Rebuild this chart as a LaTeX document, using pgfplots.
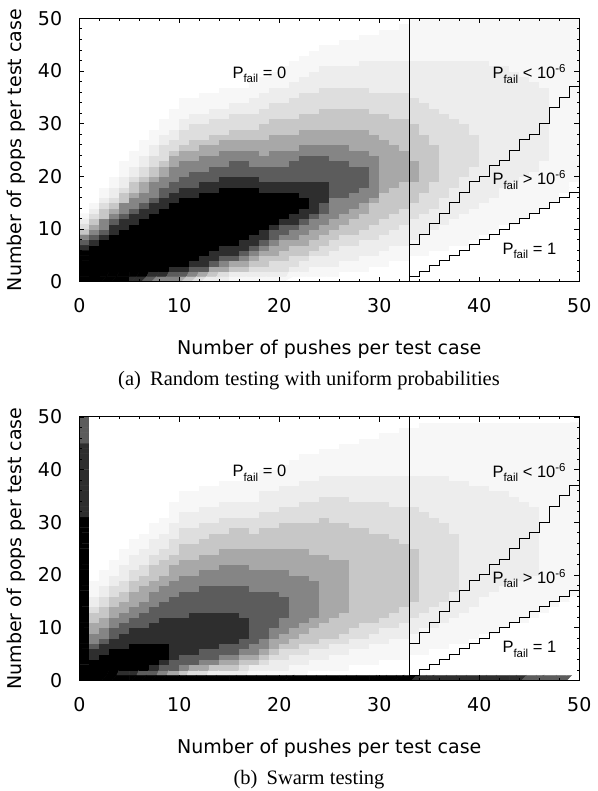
\documentclass[border=0pt]{standalone}
\usepackage{fontspec}
\usepackage{pgfplots}
\usepackage{pgfplotstable}
\pgfplotsset{compat=1.18}
\newfontfamily\djv{DejaVu Sans}
\newfontfamily\lsans{Liberation Sans}
\newfontfamily\lserif{Liberation Serif}
\newcommand{\lblfont}{\djv\fontsize{19}{23}\selectfont}
\newcommand{\pfont}{\lsans\fontsize{16.5}{20}\selectfont}
\newcommand{\capfont}{\lserif\fontsize{20.5}{24}\selectfont}
\newcommand{\psub}[1]{\raisebox{-4.5pt}{\fontsize{11.5}{13}\selectfont #1}}
\newcommand{\pexp}[1]{\raisebox{6pt}{\fontsize{11.5}{13}\selectfont #1}}
\newcommand{\Pf}{P\psub{fail}}

% gray levels 0 (white) .. 9 (black), one line per x column, y = 0..49
\pgfplotstableread[row sep=\\,header=false]{
9\\9\\9\\9\\9\\9\\8\\7\\6\\4\\ 3\\2\\1\\0\\0\\0\\0\\0\\0\\0\\ 0\\0\\0\\0\\0\\0\\0\\0\\0\\0\\ 0\\0\\0\\0\\0\\0\\0\\0\\0\\0\\ 0\\0\\0\\0\\0\\0\\0\\0\\0\\0\\
9\\9\\9\\9\\9\\9\\9\\8\\7\\6\\ 5\\4\\3\\2\\1\\0\\0\\0\\0\\0\\ 0\\0\\0\\0\\0\\0\\0\\0\\0\\0\\ 0\\0\\0\\0\\0\\0\\0\\0\\0\\0\\ 0\\0\\0\\0\\0\\0\\0\\0\\0\\0\\
9\\9\\9\\9\\9\\9\\9\\9\\8\\7\\ 6\\6\\4\\4\\3\\2\\1\\1\\0\\0\\ 0\\0\\0\\0\\0\\0\\0\\0\\0\\0\\ 0\\0\\0\\0\\0\\0\\0\\0\\0\\0\\ 0\\0\\0\\0\\0\\0\\0\\0\\0\\0\\
9\\9\\9\\9\\9\\9\\9\\9\\9\\8\\ 8\\7\\6\\5\\4\\3\\2\\2\\1\\1\\ 0\\0\\0\\0\\0\\0\\0\\0\\0\\0\\ 0\\0\\0\\0\\0\\0\\0\\0\\0\\0\\ 0\\0\\0\\0\\0\\0\\0\\0\\0\\0\\
9\\9\\9\\9\\9\\9\\9\\9\\9\\9\\ 8\\8\\7\\6\\6\\4\\4\\3\\2\\2\\ 1\\1\\1\\0\\0\\0\\0\\0\\0\\0\\ 0\\0\\0\\0\\0\\0\\0\\0\\0\\0\\ 0\\0\\0\\0\\0\\0\\0\\0\\0\\0\\
8\\9\\9\\9\\9\\9\\9\\9\\9\\9\\ 9\\8\\8\\7\\6\\6\\5\\4\\4\\3\\ 2\\2\\1\\1\\1\\0\\0\\0\\0\\0\\ 0\\0\\0\\0\\0\\0\\0\\0\\0\\0\\ 0\\0\\0\\0\\0\\0\\0\\0\\0\\0\\
8\\9\\9\\9\\9\\9\\9\\9\\9\\9\\ 9\\9\\8\\8\\7\\6\\6\\5\\5\\4\\ 3\\3\\2\\2\\1\\1\\1\\0\\0\\0\\ 0\\0\\0\\0\\0\\0\\0\\0\\0\\0\\ 0\\0\\0\\0\\0\\0\\0\\0\\0\\0\\
7\\8\\9\\9\\9\\9\\9\\9\\9\\9\\ 9\\9\\9\\8\\8\\7\\6\\6\\6\\5\\ 4\\4\\3\\3\\2\\2\\1\\1\\1\\0\\ 0\\0\\0\\0\\0\\0\\0\\0\\0\\0\\ 0\\0\\0\\0\\0\\0\\0\\0\\0\\0\\
6\\8\\9\\9\\9\\9\\9\\9\\9\\9\\ 9\\9\\9\\9\\8\\8\\7\\7\\6\\6\\ 5\\5\\4\\3\\3\\3\\2\\2\\1\\1\\ 1\\0\\0\\0\\0\\0\\0\\0\\0\\0\\ 0\\0\\0\\0\\0\\0\\0\\0\\0\\0\\
6\\7\\8\\9\\9\\9\\9\\9\\9\\9\\ 9\\9\\9\\9\\9\\8\\8\\7\\7\\6\\ 6\\6\\5\\5\\4\\3\\3\\2\\2\\1\\ 1\\1\\1\\0\\0\\0\\0\\0\\0\\0\\ 0\\0\\0\\0\\0\\0\\0\\0\\0\\0\\
5\\7\\8\\9\\9\\9\\9\\9\\9\\9\\ 9\\9\\9\\9\\9\\9\\8\\8\\7\\7\\ 6\\6\\6\\5\\5\\4\\3\\3\\3\\2\\ 2\\1\\1\\1\\1\\0\\0\\0\\0\\0\\ 0\\0\\0\\0\\0\\0\\0\\0\\0\\0\\
4\\6\\7\\8\\9\\9\\9\\9\\9\\9\\ 9\\9\\9\\9\\9\\9\\8\\8\\7\\7\\ 7\\6\\6\\5\\5\\4\\4\\3\\3\\3\\ 2\\2\\1\\1\\1\\0\\0\\0\\0\\0\\ 0\\0\\0\\0\\0\\0\\0\\0\\0\\0\\
3\\5\\7\\8\\8\\9\\9\\9\\9\\9\\ 9\\9\\9\\9\\9\\9\\9\\8\\8\\7\\ 7\\6\\6\\6\\5\\5\\4\\3\\3\\3\\ 2\\2\\1\\1\\1\\1\\0\\0\\0\\0\\ 0\\0\\0\\0\\0\\0\\0\\0\\0\\0\\
2\\4\\5\\7\\8\\8\\9\\9\\9\\9\\ 9\\9\\9\\9\\9\\9\\9\\8\\8\\7\\ 7\\7\\6\\6\\5\\5\\4\\4\\3\\3\\ 3\\2\\2\\1\\1\\1\\0\\0\\0\\0\\ 0\\0\\0\\0\\0\\0\\0\\0\\0\\0\\
2\\3\\5\\6\\7\\8\\8\\9\\9\\9\\ 9\\9\\9\\9\\9\\9\\9\\9\\8\\8\\ 7\\7\\6\\6\\6\\5\\5\\4\\3\\3\\ 3\\2\\2\\1\\1\\1\\1\\0\\0\\0\\ 0\\0\\0\\0\\0\\0\\0\\0\\0\\0\\
1\\2\\4\\5\\7\\8\\8\\9\\9\\9\\ 9\\9\\9\\9\\9\\9\\9\\9\\8\\8\\ 7\\7\\7\\6\\6\\5\\5\\4\\4\\3\\ 3\\3\\2\\2\\1\\1\\1\\0\\0\\0\\ 0\\0\\0\\0\\0\\0\\0\\0\\0\\0\\
1\\2\\4\\5\\6\\7\\8\\8\\9\\9\\ 9\\9\\9\\9\\9\\9\\9\\9\\8\\8\\ 7\\7\\7\\6\\6\\5\\5\\4\\4\\3\\ 3\\3\\2\\2\\1\\1\\1\\0\\0\\0\\ 0\\0\\0\\0\\0\\0\\0\\0\\0\\0\\
1\\2\\3\\4\\5\\6\\7\\8\\8\\9\\ 9\\9\\9\\9\\9\\9\\9\\9\\8\\8\\ 7\\7\\6\\6\\6\\5\\5\\4\\4\\3\\ 3\\3\\2\\2\\2\\1\\1\\1\\0\\0\\ 0\\0\\0\\0\\0\\0\\0\\0\\0\\0\\
1\\2\\3\\4\\4\\5\\6\\7\\8\\8\\ 9\\9\\9\\9\\9\\9\\9\\8\\8\\7\\ 7\\7\\6\\6\\5\\5\\5\\4\\4\\4\\ 3\\3\\3\\2\\2\\2\\1\\1\\1\\0\\ 0\\0\\0\\0\\0\\0\\0\\0\\0\\0\\
1\\2\\3\\3\\4\\5\\5\\6\\7\\7\\ 8\\9\\9\\9\\9\\9\\9\\8\\8\\7\\ 7\\7\\6\\6\\6\\5\\5\\5\\4\\4\\ 4\\3\\3\\3\\2\\2\\2\\1\\1\\1\\ 0\\0\\0\\0\\0\\0\\0\\0\\0\\0\\
1\\2\\3\\3\\4\\4\\5\\5\\6\\7\\ 7\\8\\9\\9\\9\\9\\9\\8\\8\\7\\ 7\\7\\6\\6\\6\\5\\5\\5\\4\\4\\ 4\\3\\3\\3\\2\\2\\2\\1\\1\\1\\ 1\\0\\0\\0\\0\\0\\0\\0\\0\\0\\
1\\1\\2\\3\\3\\4\\4\\5\\6\\6\\ 7\\8\\8\\9\\9\\9\\9\\8\\8\\7\\ 7\\7\\7\\6\\6\\5\\5\\5\\4\\4\\ 4\\3\\3\\3\\3\\2\\2\\2\\1\\1\\ 1\\1\\0\\0\\0\\0\\0\\0\\0\\0\\
0\\1\\2\\2\\3\\4\\4\\5\\5\\6\\ 6\\7\\8\\8\\9\\9\\8\\8\\8\\7\\ 7\\7\\7\\7\\6\\6\\5\\5\\5\\4\\ 4\\4\\3\\3\\3\\3\\2\\2\\2\\1\\ 1\\1\\1\\0\\0\\0\\0\\0\\0\\0\\
0\\1\\1\\2\\2\\3\\4\\4\\5\\5\\ 6\\6\\7\\8\\8\\8\\8\\8\\8\\7\\ 7\\7\\7\\7\\6\\6\\5\\5\\5\\4\\ 4\\4\\3\\3\\3\\3\\2\\2\\2\\2\\ 1\\1\\1\\1\\0\\0\\0\\0\\0\\0\\
0\\1\\1\\2\\2\\3\\3\\4\\4\\5\\ 5\\6\\6\\7\\7\\8\\8\\8\\8\\7\\ 7\\7\\7\\7\\6\\6\\5\\5\\5\\4\\ 4\\4\\4\\3\\3\\3\\3\\2\\2\\2\\ 2\\1\\1\\1\\1\\0\\0\\0\\0\\0\\
0\\1\\1\\2\\2\\2\\3\\3\\4\\4\\ 5\\5\\6\\6\\6\\6\\7\\7\\7\\7\\ 7\\7\\7\\6\\6\\6\\5\\5\\5\\4\\ 4\\4\\4\\3\\3\\3\\3\\2\\2\\2\\ 2\\1\\1\\1\\1\\0\\0\\0\\0\\0\\
0\\0\\1\\1\\2\\2\\2\\3\\3\\4\\ 4\\5\\5\\6\\6\\6\\7\\7\\7\\7\\ 7\\7\\7\\6\\6\\6\\5\\5\\5\\4\\ 4\\4\\4\\3\\3\\3\\3\\2\\2\\2\\ 2\\1\\1\\1\\1\\1\\0\\0\\0\\0\\
0\\0\\1\\1\\2\\2\\2\\3\\3\\4\\ 4\\4\\5\\5\\6\\6\\6\\7\\7\\7\\ 7\\7\\6\\6\\6\\5\\5\\5\\5\\4\\ 4\\4\\4\\3\\3\\3\\3\\2\\2\\2\\ 2\\1\\1\\1\\1\\1\\0\\0\\0\\0\\
0\\0\\1\\1\\1\\2\\2\\2\\3\\3\\ 4\\4\\4\\5\\5\\6\\6\\6\\7\\7\\ 7\\7\\6\\6\\6\\5\\5\\5\\5\\4\\ 4\\4\\4\\3\\3\\3\\3\\2\\2\\2\\ 2\\2\\1\\1\\1\\1\\1\\0\\0\\0\\
0\\0\\0\\1\\1\\2\\2\\2\\3\\3\\ 3\\4\\4\\4\\4\\5\\6\\6\\6\\6\\ 6\\6\\6\\6\\5\\5\\5\\5\\4\\4\\ 4\\4\\3\\3\\3\\3\\2\\2\\2\\2\\ 2\\2\\1\\1\\1\\1\\1\\0\\0\\0\\
0\\0\\0\\1\\1\\1\\2\\2\\2\\3\\ 3\\3\\4\\4\\4\\4\\4\\5\\5\\5\\ 5\\5\\5\\5\\5\\5\\5\\4\\4\\4\\ 4\\4\\3\\3\\3\\3\\2\\2\\2\\2\\ 2\\2\\1\\1\\1\\1\\1\\1\\0\\0\\
0\\0\\0\\0\\1\\1\\1\\2\\2\\2\\ 3\\3\\3\\4\\4\\4\\4\\4\\5\\5\\ 5\\5\\5\\5\\5\\5\\4\\4\\4\\4\\ 4\\3\\3\\3\\3\\3\\2\\2\\2\\2\\ 2\\2\\1\\1\\1\\1\\1\\1\\0\\0\\
0\\0\\0\\0\\1\\1\\1\\2\\2\\2\\ 2\\3\\3\\3\\4\\4\\4\\4\\4\\5\\ 5\\5\\5\\5\\5\\4\\4\\4\\4\\4\\ 4\\3\\3\\3\\3\\3\\2\\2\\2\\2\\ 2\\2\\1\\1\\1\\1\\1\\1\\1\\0\\
0\\0\\0\\0\\0\\1\\1\\1\\2\\2\\ 2\\2\\3\\3\\3\\4\\4\\4\\4\\5\\ 5\\5\\5\\4\\4\\4\\4\\4\\4\\4\\ 3\\3\\3\\3\\3\\2\\2\\2\\2\\2\\ 2\\2\\1\\1\\1\\1\\1\\1\\1\\1\\
0\\0\\0\\0\\0\\1\\1\\1\\1\\2\\ 2\\2\\2\\3\\3\\3\\3\\4\\4\\4\\ 4\\4\\4\\4\\4\\4\\4\\4\\3\\3\\ 3\\3\\3\\3\\2\\2\\2\\2\\2\\2\\ 2\\2\\1\\1\\1\\1\\1\\1\\1\\1\\
0\\0\\0\\0\\0\\0\\1\\1\\1\\1\\ 2\\2\\2\\2\\3\\3\\3\\3\\3\\4\\ 4\\4\\4\\4\\4\\4\\3\\3\\3\\3\\ 3\\3\\3\\2\\2\\2\\2\\2\\2\\2\\ 2\\2\\1\\1\\1\\1\\1\\1\\1\\1\\
0\\0\\0\\0\\0\\0\\1\\1\\1\\1\\ 1\\2\\2\\2\\2\\2\\3\\3\\3\\3\\ 3\\3\\3\\3\\3\\3\\3\\3\\3\\3\\ 3\\3\\2\\2\\2\\2\\2\\2\\2\\2\\ 2\\2\\1\\1\\1\\1\\1\\1\\1\\1\\
0\\0\\0\\0\\0\\0\\0\\1\\1\\1\\ 1\\1\\2\\2\\2\\2\\2\\2\\3\\3\\ 3\\3\\3\\3\\3\\3\\3\\3\\3\\3\\ 3\\2\\2\\2\\2\\2\\2\\2\\2\\2\\ 2\\2\\1\\1\\1\\1\\1\\1\\1\\1\\
0\\0\\0\\0\\0\\0\\0\\1\\1\\1\\ 1\\1\\1\\2\\2\\2\\2\\2\\2\\2\\ 3\\3\\3\\3\\3\\3\\3\\3\\3\\3\\ 2\\2\\2\\2\\2\\2\\2\\2\\2\\2\\ 2\\2\\1\\1\\1\\1\\1\\1\\1\\1\\
0\\0\\0\\0\\0\\0\\0\\0\\1\\1\\ 1\\1\\1\\1\\2\\2\\2\\2\\2\\2\\ 2\\2\\3\\3\\3\\3\\3\\3\\2\\2\\ 2\\2\\2\\2\\2\\2\\2\\2\\2\\2\\ 2\\2\\1\\1\\1\\1\\1\\1\\1\\1\\
0\\0\\0\\0\\0\\0\\0\\0\\0\\1\\ 1\\1\\1\\1\\1\\2\\2\\2\\2\\2\\ 2\\2\\2\\2\\2\\2\\2\\2\\2\\2\\ 2\\2\\2\\2\\2\\2\\2\\2\\2\\2\\ 2\\2\\1\\1\\1\\1\\1\\1\\1\\1\\
0\\0\\0\\0\\0\\0\\0\\0\\0\\0\\ 1\\1\\1\\1\\1\\1\\2\\2\\2\\2\\ 2\\2\\2\\2\\2\\2\\2\\2\\2\\2\\ 2\\2\\2\\2\\2\\2\\2\\2\\2\\2\\ 2\\1\\1\\1\\1\\1\\1\\1\\1\\1\\
0\\0\\0\\0\\0\\0\\0\\0\\0\\0\\ 0\\1\\1\\1\\1\\1\\1\\1\\2\\2\\ 2\\2\\2\\2\\2\\2\\2\\2\\2\\2\\ 2\\2\\2\\2\\2\\2\\2\\2\\2\\2\\ 2\\1\\1\\1\\1\\1\\1\\1\\1\\1\\
0\\0\\0\\0\\0\\0\\0\\0\\0\\0\\ 0\\1\\1\\1\\1\\1\\1\\1\\1\\2\\ 2\\2\\2\\2\\2\\2\\2\\2\\2\\2\\ 2\\2\\2\\2\\2\\2\\2\\2\\2\\2\\ 1\\1\\1\\1\\1\\1\\1\\1\\1\\1\\
0\\0\\0\\0\\0\\0\\0\\0\\0\\0\\ 0\\0\\1\\1\\1\\1\\1\\1\\1\\1\\ 2\\2\\2\\2\\2\\2\\2\\2\\2\\2\\ 2\\2\\2\\2\\2\\2\\2\\2\\2\\1\\ 1\\1\\1\\1\\1\\1\\1\\1\\1\\1\\
0\\0\\0\\0\\0\\0\\0\\0\\0\\0\\ 0\\0\\0\\1\\1\\1\\1\\1\\1\\1\\ 1\\2\\2\\2\\2\\2\\2\\2\\2\\2\\ 2\\2\\2\\2\\2\\2\\2\\2\\1\\1\\ 1\\1\\1\\1\\1\\1\\1\\1\\1\\1\\
0\\0\\0\\0\\0\\0\\0\\0\\0\\0\\ 0\\0\\0\\0\\1\\1\\1\\1\\1\\1\\ 1\\1\\1\\2\\2\\2\\2\\2\\2\\2\\ 2\\2\\2\\2\\2\\2\\2\\1\\1\\1\\ 1\\1\\1\\1\\1\\1\\1\\1\\1\\1\\
0\\0\\0\\0\\0\\0\\0\\0\\0\\0\\ 0\\0\\0\\0\\0\\1\\1\\1\\1\\1\\ 1\\1\\1\\1\\1\\1\\1\\1\\1\\1\\ 1\\1\\1\\1\\1\\1\\1\\1\\1\\1\\ 1\\1\\1\\1\\1\\1\\1\\1\\1\\1\\
0\\0\\0\\0\\0\\0\\0\\0\\0\\0\\ 0\\0\\0\\0\\0\\0\\0\\1\\1\\1\\ 1\\1\\1\\1\\1\\1\\1\\1\\1\\1\\ 1\\1\\1\\1\\1\\1\\1\\1\\1\\1\\ 1\\1\\1\\1\\1\\1\\1\\1\\1\\1\\
0\\0\\0\\0\\0\\0\\0\\0\\0\\0\\ 0\\0\\0\\0\\0\\0\\0\\0\\0\\1\\ 1\\1\\1\\1\\1\\1\\1\\1\\1\\1\\ 1\\1\\1\\1\\1\\1\\1\\1\\1\\1\\ 1\\1\\1\\1\\1\\1\\1\\1\\1\\1\\
}\gridA

\pgfplotstableread[row sep=\\,header=false]{
9\\9\\9\\9\\9\\9\\9\\9\\9\\9\\ 9\\9\\9\\9\\9\\9\\9\\9\\9\\9\\ 9\\9\\9\\9\\9\\9\\9\\9\\9\\9\\ 9\\8\\8\\8\\8\\8\\8\\8\\8\\8\\ 8\\8\\8\\8\\8\\7\\7\\7\\7\\7\\
9\\9\\9\\9\\8\\8\\7\\6\\6\\5\\ 5\\4\\4\\3\\2\\2\\1\\1\\1\\0\\ 0\\0\\0\\0\\0\\0\\0\\0\\0\\0\\ 0\\0\\0\\0\\0\\0\\0\\0\\0\\0\\ 0\\0\\0\\0\\0\\0\\0\\0\\0\\0\\
9\\9\\9\\9\\9\\8\\8\\7\\6\\6\\ 5\\5\\4\\4\\3\\3\\2\\2\\1\\1\\ 1\\0\\0\\0\\0\\0\\0\\0\\0\\0\\ 0\\0\\0\\0\\0\\0\\0\\0\\0\\0\\ 0\\0\\0\\0\\0\\0\\0\\0\\0\\0\\
9\\9\\9\\9\\9\\9\\8\\8\\7\\7\\ 6\\6\\5\\5\\4\\4\\3\\3\\2\\2\\ 1\\1\\1\\0\\0\\0\\0\\0\\0\\0\\ 0\\0\\0\\0\\0\\0\\0\\0\\0\\0\\ 0\\0\\0\\0\\0\\0\\0\\0\\0\\0\\
9\\8\\9\\9\\9\\9\\8\\8\\8\\7\\ 7\\6\\6\\5\\5\\4\\4\\3\\3\\2\\ 2\\2\\1\\1\\1\\0\\0\\0\\0\\0\\ 0\\0\\0\\0\\0\\0\\0\\0\\0\\0\\ 0\\0\\0\\0\\0\\0\\0\\0\\0\\0\\
9\\8\\9\\9\\9\\9\\9\\8\\8\\8\\ 7\\7\\6\\6\\5\\5\\5\\4\\4\\3\\ 3\\2\\2\\2\\1\\1\\1\\0\\0\\0\\ 0\\0\\0\\0\\0\\0\\0\\0\\0\\0\\ 0\\0\\0\\0\\0\\0\\0\\0\\0\\0\\
9\\7\\9\\9\\9\\9\\9\\8\\8\\8\\ 7\\7\\7\\6\\6\\5\\5\\5\\4\\4\\ 3\\3\\2\\2\\2\\1\\1\\1\\0\\0\\ 0\\0\\0\\0\\0\\0\\0\\0\\0\\0\\ 0\\0\\0\\0\\0\\0\\0\\0\\0\\0\\
9\\7\\8\\9\\9\\9\\9\\8\\8\\8\\ 8\\7\\7\\7\\6\\6\\6\\5\\5\\4\\ 4\\4\\3\\3\\2\\2\\2\\1\\1\\1\\ 0\\0\\0\\0\\0\\0\\0\\0\\0\\0\\ 0\\0\\0\\0\\0\\0\\0\\0\\0\\0\\
9\\6\\7\\8\\9\\9\\9\\8\\8\\8\\ 8\\8\\7\\7\\7\\6\\6\\6\\5\\5\\ 4\\4\\4\\3\\3\\2\\2\\2\\1\\1\\ 1\\0\\0\\0\\0\\0\\0\\0\\0\\0\\ 0\\0\\0\\0\\0\\0\\0\\0\\0\\0\\
9\\5\\7\\7\\8\\8\\8\\8\\8\\8\\ 8\\8\\7\\7\\7\\7\\6\\6\\6\\5\\ 5\\5\\4\\4\\3\\3\\3\\2\\2\\2\\ 1\\1\\1\\1\\0\\0\\0\\0\\0\\0\\ 0\\0\\0\\0\\0\\0\\0\\0\\0\\0\\
9\\4\\6\\7\\7\\8\\8\\8\\8\\8\\ 8\\8\\7\\7\\7\\7\\7\\6\\6\\6\\ 5\\5\\5\\4\\4\\4\\3\\3\\3\\2\\ 2\\2\\1\\1\\1\\1\\0\\0\\0\\0\\ 0\\0\\0\\0\\0\\0\\0\\0\\0\\0\\
9\\3\\5\\7\\7\\8\\8\\8\\8\\8\\ 8\\8\\8\\7\\7\\7\\7\\6\\6\\6\\ 5\\5\\5\\4\\4\\4\\3\\3\\3\\2\\ 2\\2\\1\\1\\1\\1\\0\\0\\0\\0\\ 0\\0\\0\\0\\0\\0\\0\\0\\0\\0\\
9\\3\\5\\6\\7\\7\\8\\8\\8\\8\\ 8\\8\\8\\7\\7\\7\\7\\7\\6\\6\\ 6\\5\\5\\5\\4\\4\\4\\3\\3\\3\\ 2\\2\\2\\1\\1\\1\\1\\0\\0\\0\\ 0\\0\\0\\0\\0\\0\\0\\0\\0\\0\\
9\\2\\4\\6\\7\\7\\8\\8\\8\\8\\ 8\\8\\8\\7\\7\\7\\7\\7\\6\\6\\ 6\\5\\5\\5\\4\\4\\4\\4\\3\\3\\ 2\\2\\2\\1\\1\\1\\1\\0\\0\\0\\ 0\\0\\0\\0\\0\\0\\0\\0\\0\\0\\
9\\2\\4\\5\\6\\7\\7\\8\\8\\8\\ 8\\8\\8\\7\\7\\7\\7\\7\\6\\6\\ 6\\6\\5\\5\\5\\4\\4\\4\\3\\3\\ 3\\2\\2\\2\\1\\1\\1\\1\\0\\0\\ 0\\0\\0\\0\\0\\0\\0\\0\\0\\0\\
9\\2\\4\\5\\6\\7\\7\\8\\8\\8\\ 8\\8\\8\\7\\7\\7\\7\\7\\6\\6\\ 6\\6\\5\\5\\5\\4\\4\\4\\4\\3\\ 3\\2\\2\\2\\1\\1\\1\\1\\0\\0\\ 0\\0\\0\\0\\0\\0\\0\\0\\0\\0\\
9\\2\\3\\4\\5\\6\\7\\7\\8\\8\\ 8\\8\\7\\7\\7\\7\\7\\7\\6\\6\\ 6\\6\\5\\5\\5\\4\\4\\4\\4\\3\\ 3\\2\\2\\2\\1\\1\\1\\1\\0\\0\\ 0\\0\\0\\0\\0\\0\\0\\0\\0\\0\\
9\\1\\2\\4\\5\\6\\6\\7\\7\\7\\ 7\\7\\7\\7\\7\\7\\7\\6\\6\\6\\ 6\\5\\5\\5\\5\\4\\4\\4\\3\\3\\ 3\\2\\2\\2\\1\\1\\1\\1\\1\\0\\ 0\\0\\0\\0\\0\\0\\0\\0\\0\\0\\
9\\1\\2\\3\\4\\5\\6\\6\\7\\7\\ 7\\7\\7\\7\\7\\7\\7\\6\\6\\6\\ 6\\5\\5\\5\\5\\4\\4\\4\\4\\3\\ 3\\3\\2\\2\\2\\2\\1\\1\\1\\1\\ 0\\0\\0\\0\\0\\0\\0\\0\\0\\0\\
9\\1\\2\\2\\3\\4\\5\\5\\6\\6\\ 7\\7\\7\\7\\7\\7\\7\\6\\6\\6\\ 6\\5\\5\\5\\5\\4\\4\\4\\4\\3\\ 3\\3\\2\\2\\2\\2\\1\\1\\1\\1\\ 0\\0\\0\\0\\0\\0\\0\\0\\0\\0\\
9\\1\\2\\2\\3\\3\\4\\5\\5\\6\\ 6\\6\\7\\7\\7\\7\\6\\6\\6\\6\\ 6\\5\\5\\5\\5\\4\\4\\4\\4\\4\\ 3\\3\\3\\2\\2\\2\\2\\1\\1\\1\\ 1\\0\\0\\0\\0\\0\\0\\0\\0\\0\\
9\\1\\1\\2\\2\\3\\4\\4\\5\\5\\ 6\\6\\6\\6\\6\\6\\6\\6\\6\\6\\ 5\\5\\5\\5\\5\\4\\4\\4\\4\\4\\ 3\\3\\3\\2\\2\\2\\2\\1\\1\\1\\ 1\\1\\0\\0\\0\\0\\0\\0\\0\\0\\
9\\1\\1\\2\\2\\3\\3\\4\\4\\5\\ 5\\6\\6\\6\\6\\6\\6\\6\\6\\6\\ 5\\5\\5\\5\\5\\4\\4\\4\\4\\4\\ 3\\3\\3\\3\\2\\2\\2\\2\\1\\1\\ 1\\1\\1\\0\\0\\0\\0\\0\\0\\0\\
9\\0\\1\\1\\2\\2\\3\\4\\4\\4\\ 5\\5\\6\\6\\6\\6\\6\\6\\6\\5\\ 5\\5\\5\\5\\4\\4\\4\\4\\4\\4\\ 3\\3\\3\\3\\2\\2\\2\\2\\1\\1\\ 1\\1\\1\\0\\0\\0\\0\\0\\0\\0\\
9\\0\\1\\1\\2\\2\\3\\3\\4\\4\\ 4\\5\\5\\5\\5\\5\\5\\5\\5\\5\\ 5\\5\\5\\5\\4\\4\\4\\4\\4\\4\\ 4\\3\\3\\3\\3\\2\\2\\2\\2\\1\\ 1\\1\\1\\1\\0\\0\\0\\0\\0\\0\\
9\\0\\1\\1\\1\\2\\2\\3\\4\\4\\ 4\\4\\5\\5\\5\\5\\5\\5\\5\\5\\ 5\\5\\5\\4\\4\\4\\4\\4\\4\\4\\ 3\\3\\3\\3\\3\\2\\2\\2\\2\\1\\ 1\\1\\1\\1\\0\\0\\0\\0\\0\\0\\
9\\0\\1\\1\\1\\2\\2\\3\\3\\4\\ 4\\4\\4\\5\\5\\5\\5\\5\\5\\5\\ 5\\5\\5\\4\\4\\4\\4\\4\\4\\4\\ 3\\3\\3\\3\\3\\2\\2\\2\\2\\1\\ 1\\1\\1\\1\\1\\0\\0\\0\\0\\0\\
9\\0\\0\\1\\1\\1\\2\\2\\3\\3\\ 4\\4\\4\\4\\4\\4\\4\\4\\4\\4\\ 4\\4\\4\\4\\4\\4\\4\\4\\4\\3\\ 3\\3\\3\\3\\2\\2\\2\\2\\2\\1\\ 1\\1\\1\\1\\1\\0\\0\\0\\0\\0\\
9\\0\\0\\1\\1\\1\\2\\2\\3\\3\\ 3\\4\\4\\4\\4\\4\\4\\4\\4\\4\\ 4\\4\\4\\4\\4\\4\\4\\4\\4\\3\\ 3\\3\\3\\3\\2\\2\\2\\2\\2\\1\\ 1\\1\\1\\1\\1\\1\\0\\0\\0\\0\\
9\\0\\0\\1\\1\\1\\1\\2\\2\\3\\ 3\\4\\4\\4\\4\\4\\4\\4\\4\\4\\ 4\\4\\4\\4\\4\\4\\4\\4\\3\\3\\ 3\\3\\3\\3\\2\\2\\2\\2\\2\\1\\ 1\\1\\1\\1\\1\\1\\0\\0\\0\\0\\
9\\0\\0\\0\\1\\1\\1\\2\\2\\2\\ 3\\3\\4\\4\\4\\4\\4\\4\\4\\4\\ 4\\4\\4\\4\\4\\4\\4\\4\\3\\3\\ 3\\3\\3\\3\\2\\2\\2\\2\\2\\1\\ 1\\1\\1\\1\\1\\1\\1\\0\\0\\0\\
9\\0\\0\\0\\1\\1\\1\\1\\2\\2\\ 3\\3\\3\\4\\4\\4\\4\\4\\4\\4\\ 4\\4\\4\\4\\4\\4\\4\\3\\3\\3\\ 3\\3\\3\\2\\2\\2\\2\\2\\2\\1\\ 1\\1\\1\\1\\1\\1\\1\\0\\0\\0\\
9\\0\\0\\0\\1\\1\\1\\1\\2\\2\\ 2\\3\\3\\3\\4\\4\\4\\4\\4\\4\\ 4\\4\\4\\4\\4\\4\\3\\3\\3\\3\\ 3\\3\\3\\2\\2\\2\\2\\2\\2\\1\\ 1\\1\\1\\1\\1\\1\\1\\1\\0\\0\\
9\\0\\0\\0\\0\\1\\1\\1\\1\\2\\ 2\\2\\3\\3\\3\\4\\4\\4\\4\\4\\ 4\\4\\4\\4\\4\\3\\3\\3\\3\\3\\ 3\\3\\3\\2\\2\\2\\2\\2\\2\\1\\ 1\\1\\1\\1\\1\\1\\1\\1\\0\\0\\
8\\0\\0\\0\\0\\1\\1\\1\\1\\1\\ 2\\2\\2\\3\\3\\3\\3\\3\\3\\3\\ 3\\3\\3\\3\\3\\3\\3\\3\\3\\3\\ 3\\3\\2\\2\\2\\2\\2\\2\\2\\1\\ 1\\1\\1\\1\\1\\1\\1\\1\\1\\0\\
8\\0\\0\\0\\0\\0\\1\\1\\1\\1\\ 2\\2\\2\\2\\3\\3\\3\\3\\3\\3\\ 3\\3\\3\\3\\3\\3\\3\\3\\3\\3\\ 3\\2\\2\\2\\2\\2\\2\\2\\2\\1\\ 1\\1\\1\\1\\1\\1\\1\\1\\1\\0\\
8\\0\\0\\0\\0\\0\\1\\1\\1\\1\\ 1\\2\\2\\2\\2\\3\\3\\3\\3\\3\\ 3\\3\\3\\3\\3\\3\\3\\3\\3\\3\\ 2\\2\\2\\2\\2\\2\\2\\2\\2\\1\\ 1\\1\\1\\1\\1\\1\\1\\1\\1\\0\\
8\\0\\0\\0\\0\\0\\0\\1\\1\\1\\ 1\\1\\2\\2\\2\\2\\2\\3\\3\\3\\ 3\\3\\3\\3\\3\\3\\3\\3\\2\\2\\ 2\\2\\2\\2\\2\\2\\2\\2\\1\\1\\ 1\\1\\1\\1\\1\\1\\1\\1\\1\\0\\
8\\0\\0\\0\\0\\0\\0\\1\\1\\1\\ 1\\1\\1\\2\\2\\2\\2\\2\\2\\2\\ 2\\2\\2\\2\\2\\2\\2\\2\\2\\2\\ 2\\2\\2\\2\\2\\2\\2\\2\\1\\1\\ 1\\1\\1\\1\\1\\1\\1\\1\\1\\0\\
8\\0\\0\\0\\0\\0\\0\\0\\1\\1\\ 1\\1\\1\\1\\2\\2\\2\\2\\2\\2\\ 2\\2\\2\\2\\2\\2\\2\\2\\2\\2\\ 2\\2\\2\\2\\2\\2\\2\\1\\1\\1\\ 1\\1\\1\\1\\1\\1\\1\\1\\1\\0\\
8\\0\\0\\0\\0\\0\\0\\0\\0\\1\\ 1\\1\\1\\1\\1\\1\\2\\2\\2\\2\\ 2\\2\\2\\2\\2\\2\\2\\2\\2\\2\\ 2\\2\\2\\2\\2\\2\\2\\1\\1\\1\\ 1\\1\\1\\1\\1\\1\\1\\1\\1\\0\\
8\\0\\0\\0\\0\\0\\0\\0\\0\\1\\ 1\\1\\1\\1\\1\\1\\1\\2\\2\\2\\ 2\\2\\2\\2\\2\\2\\2\\2\\2\\2\\ 2\\2\\2\\2\\2\\2\\1\\1\\1\\1\\ 1\\1\\1\\1\\1\\1\\1\\1\\1\\0\\
8\\0\\0\\0\\0\\0\\0\\0\\0\\0\\ 1\\1\\1\\1\\1\\1\\1\\1\\2\\2\\ 2\\2\\2\\2\\2\\2\\2\\2\\2\\2\\ 2\\2\\2\\2\\2\\2\\1\\1\\1\\1\\ 1\\1\\1\\1\\1\\1\\1\\1\\1\\0\\
8\\0\\0\\0\\0\\0\\0\\0\\0\\0\\ 0\\1\\1\\1\\1\\1\\1\\1\\1\\2\\ 2\\2\\2\\2\\2\\2\\2\\2\\2\\2\\ 2\\2\\2\\2\\2\\1\\1\\1\\1\\1\\ 1\\1\\1\\1\\1\\1\\1\\1\\1\\0\\
8\\0\\0\\0\\0\\0\\0\\0\\0\\0\\ 0\\1\\1\\1\\1\\1\\1\\1\\1\\2\\ 2\\2\\2\\2\\2\\2\\2\\2\\2\\2\\ 2\\2\\2\\2\\1\\1\\1\\1\\1\\1\\ 1\\1\\1\\1\\1\\1\\1\\1\\1\\0\\
7\\0\\0\\0\\0\\0\\0\\0\\0\\0\\ 0\\0\\1\\1\\1\\1\\1\\1\\1\\1\\ 2\\2\\2\\2\\2\\2\\2\\2\\2\\2\\ 2\\2\\2\\1\\1\\1\\1\\1\\1\\1\\ 1\\1\\1\\1\\1\\1\\1\\1\\1\\0\\
7\\0\\0\\0\\0\\0\\0\\0\\0\\0\\ 0\\0\\0\\1\\1\\1\\1\\1\\1\\1\\ 1\\1\\1\\1\\1\\1\\1\\1\\1\\1\\ 1\\1\\1\\1\\1\\1\\1\\1\\1\\1\\ 1\\1\\1\\1\\1\\1\\1\\1\\1\\0\\
7\\0\\0\\0\\0\\0\\0\\0\\0\\0\\ 0\\0\\0\\0\\1\\1\\1\\1\\1\\1\\ 1\\1\\1\\1\\1\\1\\1\\1\\1\\1\\ 1\\1\\1\\1\\1\\1\\1\\1\\1\\1\\ 1\\1\\1\\1\\1\\1\\1\\1\\1\\0\\
7\\0\\0\\0\\0\\0\\0\\0\\0\\0\\ 0\\0\\0\\0\\0\\1\\1\\1\\1\\1\\ 1\\1\\1\\1\\1\\1\\1\\1\\1\\1\\ 1\\1\\1\\1\\1\\1\\1\\1\\1\\1\\ 1\\1\\1\\1\\1\\1\\1\\1\\1\\0\\
7\\0\\0\\0\\0\\0\\0\\0\\0\\0\\ 0\\0\\0\\0\\0\\0\\1\\1\\1\\1\\ 1\\1\\1\\1\\1\\1\\1\\1\\1\\1\\ 1\\1\\1\\1\\1\\1\\1\\1\\1\\1\\ 1\\1\\1\\1\\1\\1\\1\\1\\1\\0\\
}\gridB

\pgfplotsset{
  colormap={fail}{gray(0cm)=(1); gray(1cm)=(0.97); gray(2cm)=(0.93);
    gray(3cm)=(0.87); gray(4cm)=(0.78); gray(5cm)=(0.66); gray(6cm)=(0.52);
    gray(7cm)=(0.36); gray(8cm)=(0.18); gray(9cm)=(0)},
  panel/.style={
    width=500pt, height=263.5pt, scale only axis,
    xmin=0, xmax=50, ymin=0, ymax=50, enlargelimits=false,
    xtick={0,10,...,50}, ytick={0,10,...,50},
    minor x tick num=4, minor y tick num=4,
    tick align=inside, xtick pos=both, ytick pos=both,
    major tick length=5pt, minor tick length=2.5pt,
    every tick/.style={black, line width=0.5pt},
    axis line style={black, line width=0.8pt},
    axis on top,
    colormap name=fail, point meta min=0, point meta max=9,
    /pgf/number format/assume math mode=true,
    tick label style={font=\lblfont},
    xticklabel style={anchor=base, inner sep=0pt, yshift=-31.3pt},
    yticklabel style={anchor=east, inner sep=0pt, xshift=-17pt},
    xlabel={Number of pushes per test case},
    ylabel={Number of pops per test case},
    label style={font=\lblfont},
    xlabel style={at={(axis description cs:0.5,-0.276)}, anchor=base},
    ylabel style={at={(axis description cs:-0.1156,0.5)}, anchor=base},
  },
  heat/.style={matrix plot*, mesh/rows=50, mesh/cols=50,
    mesh/ordering=y varies, point meta=explicit},
  step/.style={const plot, black, line width=0.8pt, mark=none},
}

\newcommand{\panelextras}{%
  \addplot[step] coordinates {(33,7) (34,9) (35,11) (36,13) (37,15) (38,17)
    (39,19) (40,20) (41,22) (42,23) (43,25) (44,27) (45,28) (46,30) (47,33)
    (48,35) (49,37) (50,37)};
  \addplot[step] coordinates {(33,1) (34,2) (35,3) (36,4) (37,5) (38,6)
    (39,7) (40,8) (41,9) (42,10) (43,11) (44,12) (45,13) (46,14) (47,15)
    (48,16) (49,17) (50,17)};
  \addplot[black, line width=0.8pt, mark=none] coordinates {(33,0) (33,50)};
  \node[anchor=base west, font=\pfont, inner sep=0pt] at (axis cs:15.3,38.6) {\Pf{} = 0};
  \node[anchor=base west, font=\pfont, inner sep=0pt] at (axis cs:41.3,38.5) {\Pf{} < 10\pexp{-6}};
  \node[anchor=base west, font=\pfont, inner sep=0pt] at (axis cs:41.3,18.4) {\Pf{} > 10\pexp{-6}};
  \node[anchor=base west, font=\pfont, inner sep=0pt] at (axis cs:42.3,5.2) {\Pf{} = 1};
}

\begin{document}
\begin{tikzpicture}
\useasboundingbox (0,0) rectangle (597pt,791pt);

% (a) random testing with uniform probabilities
\begin{axis}[panel, at={(79.3pt,509.3pt)}, anchor=south west]
  \addplot[heat] table[x index=0, y index=0, meta index=0,
    x expr={floor(\coordindex/50)+0.5},
    y expr={mod(\coordindex,50)+0.5}] {\gridA};
  \panelextras
\end{axis}
\node[font=\capfont, anchor=base] at (309pt,405pt)
  {(a)\hspace{0.45em}Random testing with uniform probabilities};

% (b) swarm testing
\begin{axis}[panel, at={(79.3pt,110.7pt)}, anchor=south west]
  \addplot[heat] table[x index=0, y index=0, meta index=0,
    x expr={floor(\coordindex/50)+0.5},
    y expr={mod(\coordindex,50)+0.5}] {\gridB};
  \panelextras
\end{axis}
\node[font=\capfont, anchor=base] at (309pt,6pt)
  {(b)\hspace{0.45em}Swarm testing};
\end{tikzpicture}
\end{document}
